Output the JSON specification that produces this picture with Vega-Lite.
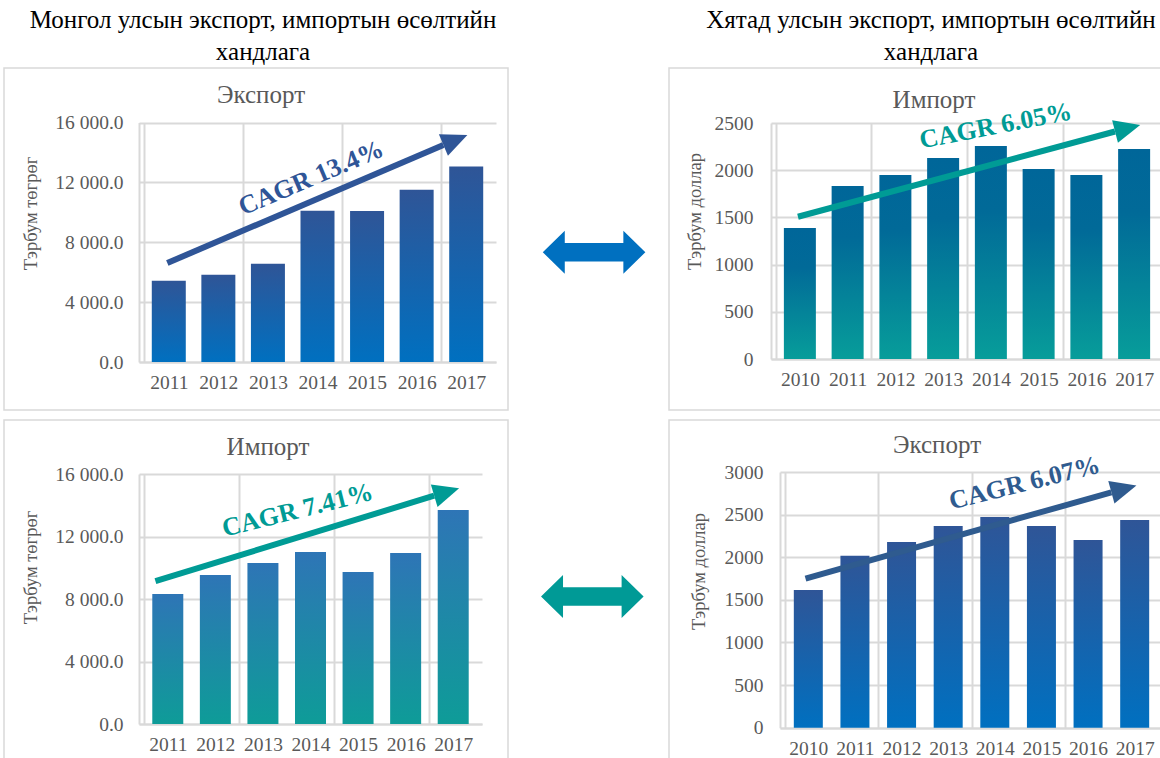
{
  "$schema": "https://vega.github.io/schema/vega-lite/v6.json",
  "padding": {"left": 3, "top": 8, "right": 0, "bottom": 0},
  "autosize": {"type": "pad"},
  "spacing": 0,
  "config": {
    "font": "Liberation Serif",
    "view": {"stroke": "#d9d9d9", "strokeWidth": 1.5},
    "axis": {
      "labelFont": "Liberation Serif", "titleFont": "Liberation Serif",
      "labelColor": "#595959", "labelFontSize": 19.5,
      "titleColor": "#595959", "titleFontSize": 18.5, "titleFontWeight": "normal",
      "ticks": false, "domainColor": "#d9d9d9", "domainWidth": 2,
      "gridColor": "#d9d9d9", "gridWidth": 2
    },
    "title": {"font": "Liberation Serif", "fontWeight": "normal"}
  },
  "hconcat": [
    {
      "title": {"text": ["Монгол улсын экспорт, импортын өсөлтийн", "хандлага"], "fontSize": 25, "color": "#000000", "lineHeight": 32, "anchor": "middle", "frame": "bounds", "dx": 7, "offset": 2},
      "spacing": 8,
      "vconcat": [
        {
          "width": 504, "height": 342,
          "title": {"text": "Экспорт", "fontSize": 25, "color": "#595959", "frame": "group", "anchor": "middle", "baseline": "middle", "offset": -52, "dx": 5},
          "layer": [
            {
              "data": {"values": [
                {"year": 2011, "value": 5423}, {"year": 2012, "value": 5824}, {"year": 2013, "value": 6561},
                {"year": 2014, "value": 10110}, {"year": 2015, "value": 10090}, {"year": 2016, "value": 11515}, {"year": 2017, "value": 13054}
              ]},
              "mark": {"type": "bar", "width": 34, "color": {"gradient": "linear", "x1": 0, "y1": 0, "x2": 0, "y2": 1, "stops": [{"offset": 0, "color": "#2F5597"}, {"offset": 1, "color": "#0070C0"}]}},
              "encoding": {
                "x": {"field": "year", "type": "quantitative", "scale": {"domain": [2010.5, 2017.5], "range": [135, 492], "nice": false, "zero": false},
                      "axis": {"values": [2011, 2012, 2013, 2014, 2015, 2016, 2017], "format": "d", "offset": -48, "labelPadding": 11, "grid": false, "title": null}},
                "y": {"field": "value", "type": "quantitative", "scale": {"domain": [0, 16000], "range": [294, 54.5], "nice": false},
                      "axis": {"values": [0, 4000, 8000, 12000, 16000], "labelExpr": "replace(format(datum.value, ',.1f'), ',', ' ')", "offset": -135, "labelPadding": 16, "grid": true, "title": "Тэрбум төгрөг", "titlePadding": 14, "titleY": 145}}
              }
            },
            {
              "data": {"values": [{"year": 2010.97, "value": 6614}, {"year": 2016.54, "value": 14498}]},
              "mark": {"type": "line", "color": "#2F5597", "strokeWidth": 6, "strokeCap": "butt"},
              "encoding": {
                "x": {"field": "year", "type": "quantitative", "axis": {"orient": "top", "values": [2010.5, 2012.5, 2014.5, 2016.5], "grid": true, "labels": false, "domain": false, "ticks": false, "title": null}},
                "y": {"field": "value", "type": "quantitative"}
              }
            },
            {
              "data": {"values": [{"year": 2016.54, "value": 14498}]},
              "mark": {"type": "point", "shape": "M0,-0.9L2,0L0,0.9Z", "size": 676, "filled": true, "opacity": 1, "strokeWidth": 0, "color": "#2F5597", "angle": 337.3},
              "encoding": {"x": {"field": "year", "type": "quantitative", "axis": null}, "y": {"field": "value", "type": "quantitative"}}
            },
            {
              "data": {"values": [{"year": 2013.87, "value": 12293, "label": "CAGR 13.4%"}]},
              "mark": {"type": "text", "fontSize": 26, "fontWeight": "bold", "color": "#2F5597", "angle": 337, "align": "center", "baseline": "middle"},
              "encoding": {"x": {"field": "year", "type": "quantitative", "axis": null}, "y": {"field": "value", "type": "quantitative"}, "text": {"field": "label"}}
            }
          ],
          "resolve": {"axis": {"x": "independent"}}
        },
        {
          "width": 504, "height": 340,
          "title": {"text": "Импорт", "fontSize": 25, "color": "#595959", "frame": "group", "anchor": "middle", "baseline": "middle", "offset": -52, "dx": 12},
          "layer": [
            {
              "data": {"values": [
                {"year": 2011, "value": 8320}, {"year": 2012, "value": 9536}, {"year": 2013, "value": 10304},
                {"year": 2014, "value": 11008}, {"year": 2015, "value": 9728}, {"year": 2016, "value": 10944}, {"year": 2017, "value": 13696}
              ]},
              "mark": {"type": "bar", "width": 31, "color": {"gradient": "linear", "x1": 0, "y1": 0, "x2": 0, "y2": 1, "stops": [{"offset": 0, "color": "#2E75B6"}, {"offset": 1, "color": "#0E9C98"}]}},
              "encoding": {
                "x": {"field": "year", "type": "quantitative", "scale": {"domain": [2010.5, 2017.5], "range": [135, 478], "nice": false, "zero": false},
                      "axis": {"values": [2011, 2012, 2013, 2014, 2015, 2016, 2017], "format": "d", "offset": -36, "labelPadding": 11, "grid": false, "title": null}},
                "y": {"field": "value", "type": "quantitative", "scale": {"domain": [0, 16000], "range": [304, 54], "nice": false},
                      "axis": {"values": [0, 4000, 8000, 12000, 16000], "labelExpr": "replace(format(datum.value, ',.1f'), ',', ' ')", "offset": -135, "labelPadding": 16, "grid": true, "title": "Тэрбум төгрөг", "titlePadding": 14, "titleY": 147}}
              }
            },
            {
              "data": {"values": [{"year": 2010.74, "value": 9141}, {"year": 2016.6, "value": 14612}]},
              "mark": {"type": "line", "color": "#009B95", "strokeWidth": 6, "strokeCap": "butt"},
              "encoding": {
                "x": {"field": "year", "type": "quantitative", "axis": {"orient": "top", "values": [2010.5, 2012.5, 2014.5, 2016.5], "grid": true, "labels": false, "domain": false, "ticks": false, "title": null}},
                "y": {"field": "value", "type": "quantitative"}
              }
            },
            {
              "data": {"values": [{"year": 2016.6, "value": 14612}]},
              "mark": {"type": "point", "shape": "M0,-0.9L2,0L0,0.9Z", "size": 676, "filled": true, "opacity": 1, "strokeWidth": 0, "color": "#009B95", "angle": 343.4},
              "encoding": {"x": {"field": "year", "type": "quantitative", "axis": null}, "y": {"field": "value", "type": "quantitative"}}
            },
            {
              "data": {"values": [{"year": 2013.73, "value": 13679, "label": "CAGR 7.41%"}]},
              "mark": {"type": "text", "fontSize": 26, "fontWeight": "bold", "color": "#009B95", "angle": 346, "align": "center", "baseline": "middle"},
              "encoding": {"x": {"field": "year", "type": "quantitative", "axis": null}, "y": {"field": "value", "type": "quantitative"}, "text": {"field": "label"}}
            }
          ],
          "resolve": {"axis": {"x": "independent"}}
        }
      ]
    },
    {
      "width": 159, "height": 690,
      "view": {"stroke": null},
      "data": {"values": [{"pair": "экспорт-импорт"}]},
      "layer": [
        {
          "mark": {"type": "point", "shape": "M-1,0L-0.571,-0.419L-0.571,-0.179L0.571,-0.179L0.571,-0.419L1,0L0.571,0.419L0.571,0.179L-0.571,0.179L-0.571,0.419Z", "size": 10527, "filled": true, "opacity": 1, "strokeWidth": 0, "color": "#0070C0"},
          "encoding": {
            "x": {"datum": 0.535, "type": "quantitative", "scale": {"domain": [0, 1]}, "axis": null},
            "y": {"datum": 0.733, "type": "quantitative", "scale": {"domain": [0, 1]}, "axis": null}
          }
        },
        {
          "mark": {"type": "point", "shape": "M-1,0L-0.571,-0.419L-0.571,-0.179L0.571,-0.179L0.571,-0.419L1,0L0.571,0.419L0.571,0.179L-0.571,0.179L-0.571,0.419Z", "size": 10527, "filled": true, "opacity": 1, "strokeWidth": 0, "color": "#009A96"},
          "encoding": {
            "x": {"datum": 0.524, "type": "quantitative", "scale": {"domain": [0, 1]}, "axis": null},
            "y": {"datum": 0.234, "type": "quantitative", "scale": {"domain": [0, 1]}, "axis": null}
          }
        }
      ]
    },
    {
      "title": {"text": ["Хятад улсын экспорт, импортын өсөлтийн", "хандлага"], "fontSize": 25, "color": "#000000", "lineHeight": 32, "anchor": "middle", "frame": "bounds", "dx": 15, "offset": 2},
      "spacing": 8,
      "vconcat": [
        {
          "width": 494, "height": 342,
          "title": {"text": "Импорт", "fontSize": 25, "color": "#595959", "frame": "group", "anchor": "middle", "baseline": "middle", "offset": -57, "dx": 18},
          "layer": [
            {
              "data": {"values": [
                {"year": 2010, "value": 1388}, {"year": 2011, "value": 1833}, {"year": 2012, "value": 1949}, {"year": 2013, "value": 2129},
                {"year": 2014, "value": 2256}, {"year": 2015, "value": 2013}, {"year": 2016, "value": 1949}, {"year": 2017, "value": 2225}
              ]},
              "mark": {"type": "bar", "width": 32, "color": {"gradient": "linear", "x1": 0, "y1": 0, "x2": 0, "y2": 1, "stops": [{"offset": 0, "color": "#006699"}, {"offset": 0.3, "color": "#016A98"}, {"offset": 1, "color": "#079D9A"}]}},
              "encoding": {
                "x": {"field": "year", "type": "quantitative", "scale": {"domain": [2009.5, 2017.5], "range": [102, 494], "nice": false, "zero": false},
                      "axis": {"values": [2010, 2011, 2012, 2013, 2014, 2015, 2016, 2017], "format": "d", "offset": -51, "labelPadding": 11, "grid": false, "title": null}},
                "y": {"field": "value", "type": "quantitative", "scale": {"domain": [0, 2500], "range": [291, 55], "nice": false},
                      "axis": {"values": [0, 500, 1000, 1500, 2000, 2500], "format": "d", "offset": -102, "labelPadding": 18, "grid": true, "title": "Тэрбум доллар", "titlePadding": 10, "titleY": 143}}
              }
            },
            {
              "data": {"values": [{"year": 2009.96, "value": 1507}, {"year": 2016.6, "value": 2410}]},
              "mark": {"type": "line", "color": "#009B95", "strokeWidth": 6, "strokeCap": "butt"},
              "encoding": {
                "x": {"field": "year", "type": "quantitative", "axis": {"orient": "top", "values": [2009.5, 2011.5, 2013.5, 2015.5], "grid": true, "labels": false, "domain": false, "ticks": false, "title": null}},
                "y": {"field": "value", "type": "quantitative"}
              }
            },
            {
              "data": {"values": [{"year": 2016.6, "value": 2410}]},
              "mark": {"type": "point", "shape": "M0,-0.9L2,0L0,0.9Z", "size": 676, "filled": true, "opacity": 1, "strokeWidth": 0, "color": "#009B95", "angle": 345.6},
              "encoding": {"x": {"field": "year", "type": "quantitative", "axis": null}, "y": {"field": "value", "type": "quantitative"}}
            },
            {
              "data": {"values": [{"year": 2014.1, "value": 2468, "label": "CAGR 6.05%"}]},
              "mark": {"type": "text", "fontSize": 26, "fontWeight": "bold", "color": "#009B95", "angle": 349, "align": "center", "baseline": "middle"},
              "encoding": {"x": {"field": "year", "type": "quantitative", "axis": null}, "y": {"field": "value", "type": "quantitative"}, "text": {"field": "label"}}
            }
          ],
          "resolve": {"axis": {"x": "independent"}}
        },
        {
          "width": 494, "height": 340,
          "title": {"text": "Экспорт", "fontSize": 25, "color": "#595959", "frame": "group", "anchor": "middle", "baseline": "middle", "offset": -50, "dx": 21},
          "layer": [
            {
              "data": {"values": [
                {"year": 2010, "value": 1617}, {"year": 2011, "value": 2016}, {"year": 2012, "value": 2180}, {"year": 2013, "value": 2367},
                {"year": 2014, "value": 2473}, {"year": 2015, "value": 2367}, {"year": 2016, "value": 2203}, {"year": 2017, "value": 2438}
              ]},
              "mark": {"type": "bar", "width": 29, "color": {"gradient": "linear", "x1": 0, "y1": 0, "x2": 0, "y2": 1, "stops": [{"offset": 0, "color": "#2F5597"}, {"offset": 1, "color": "#0070C0"}]}},
              "encoding": {
                "x": {"field": "year", "type": "quantitative", "scale": {"domain": [2009.5, 2017.5], "range": [111, 494], "nice": false, "zero": false},
                      "axis": {"values": [2010, 2011, 2012, 2013, 2014, 2015, 2016, 2017], "format": "d", "offset": -32, "labelPadding": 11, "grid": false, "title": null}},
                "y": {"field": "value", "type": "quantitative", "scale": {"domain": [0, 3000], "range": [307.7, 52], "nice": false},
                      "axis": {"values": [0, 500, 1000, 1500, 2000, 2500, 3000], "format": "d", "offset": -111, "labelPadding": 17, "grid": true, "title": "Тэрбум доллар", "titlePadding": 16, "titleY": 151}}
              }
            },
            {
              "data": {"values": [{"year": 2009.94, "value": 1748}, {"year": 2016.5, "value": 2762}]},
              "mark": {"type": "line", "color": "#2F5B8F", "strokeWidth": 6, "strokeCap": "butt"},
              "encoding": {
                "x": {"field": "year", "type": "quantitative", "axis": {"orient": "top", "values": [2009.5, 2011.5, 2013.5, 2015.5], "grid": true, "labels": false, "domain": false, "ticks": false, "title": null}},
                "y": {"field": "value", "type": "quantitative"}
              }
            },
            {
              "data": {"values": [{"year": 2016.5, "value": 2762}]},
              "mark": {"type": "point", "shape": "M0,-0.9L2,0L0,0.9Z", "size": 676, "filled": true, "opacity": 1, "strokeWidth": 0, "color": "#2F5B8F", "angle": 344.6},
              "encoding": {"x": {"field": "year", "type": "quantitative", "axis": null}, "y": {"field": "value", "type": "quantitative"}}
            },
            {
              "data": {"values": [{"year": 2014.64, "value": 2870, "label": "CAGR 6.07%"}]},
              "mark": {"type": "text", "fontSize": 26, "fontWeight": "bold", "color": "#2F5B8F", "angle": 346, "align": "center", "baseline": "middle"},
              "encoding": {"x": {"field": "year", "type": "quantitative", "axis": null}, "y": {"field": "value", "type": "quantitative"}, "text": {"field": "label"}}
            }
          ],
          "resolve": {"axis": {"x": "independent"}}
        }
      ]
    }
  ]
}
